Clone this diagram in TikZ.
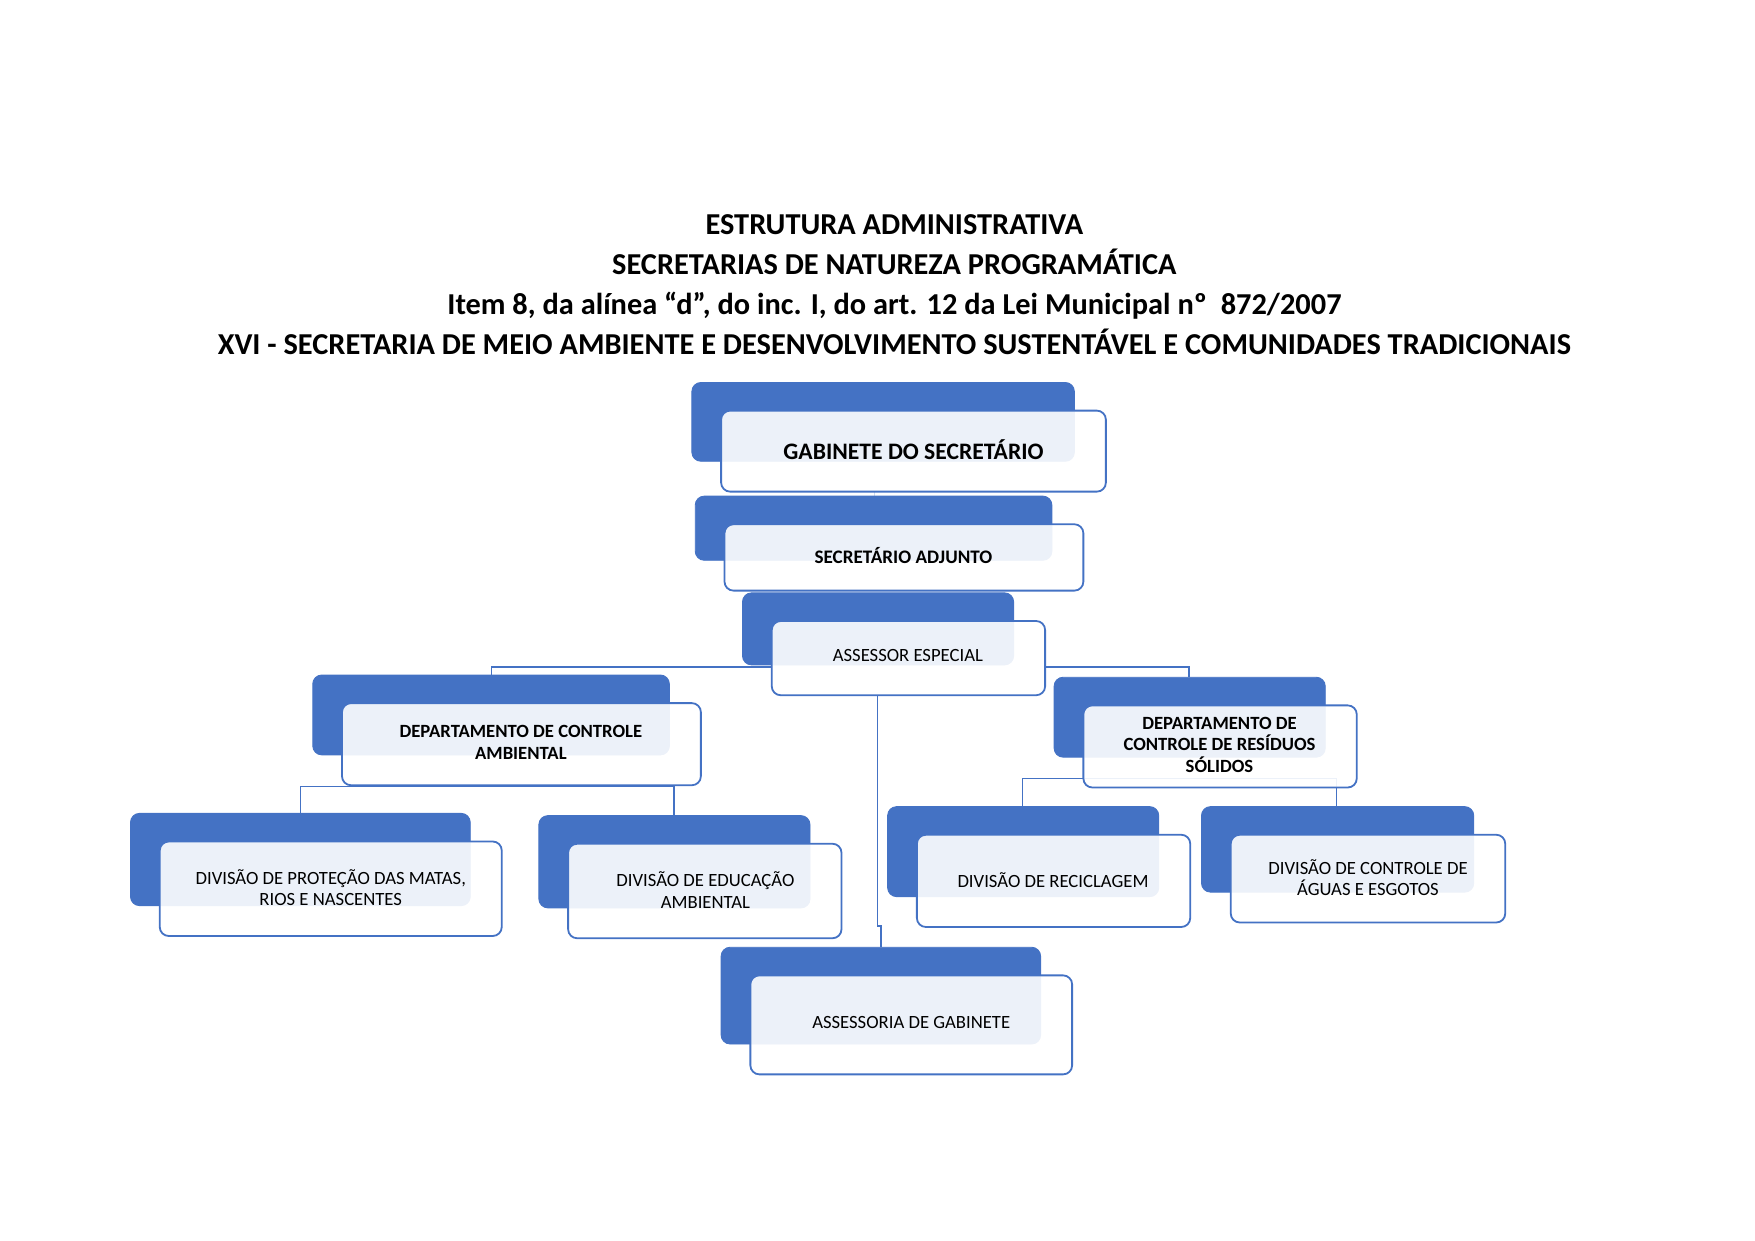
\documentclass[tikz,border=0pt]{standalone}
\usepackage{fontspec}
\setmainfont{Carlito}
\definecolor{bb}{HTML}{4472C4}
\begin{document}
\begin{tikzpicture}[x=0.5pt,y=-0.5pt,
 back/.style={fill=bb,draw=bb,rounded corners=4pt},
 front/.style={fill=white,fill opacity=0.9,draw=bb,line width=0.8pt,rounded corners=4pt},
 lbl/.style={align=center,font=\fontsize{8.3}{9.5}\selectfont,text=black},
 conn/.style={draw=bb,line width=0.7pt}]
\useasboundingbox (0,0) rectangle (1560,1103);
\node[font=\bfseries\fontsize{13.5}{17.8}\selectfont,align=center] (title) at (795,253)
 {ESTRUTURA ADMINISTRATIVA\\SECRETARIAS DE NATUREZA PROGRAMÁTICA\\Item 8, da alínea “d”, do inc. I, do art. 12 da Lei Municipal nº\ \ 872/2007\\XVI - SECRETARIA DE MEIO AMBIENTE E DESENVOLVIMENTO SUSTENTÁVEL E COMUNIDADES TRADICIONAIS};
% connectors
\coordinate (cl) at (437,593); \coordinate (cl2) at (437,600);
\coordinate (cr) at (1057,593); \coordinate (cr2) at (1057,602);
\draw[conn] (686,593) -- (cl) -- (cl2);
\draw[conn] (929,593) -- (cr) -- (cr2);
\draw[conn] (780,618) -- (780,823) -- (783,823) -- (783,842);
\draw[conn] (267,723) -- (267,699) -- (599,699) -- (599,725);
\draw[conn] (909,717) -- (909,692) -- (1188,692) -- (1188,717);
\draw[draw=bb!25,line width=0.5pt] (777,437) -- (777,466);
\newcommand\orgbox[9]{%
 \draw[back] (#1,#2) rectangle (#3,#4);
 \draw[front] (#1+26,#2+25) rectangle (#3+28,#4+27);
 \node[lbl,#9] (#8) at (#5,#6) {#7};}
\orgbox{615}{340}{955}{410}{812}{400}{GABINETE DO SECRETÁRIO}{gab}{font=\bfseries\fontsize{10.5}{12}\selectfont}
\orgbox{618}{441}{935}{498}{803}{494}{SECRETÁRIO ADJUNTO}{adj}{font=\bfseries\fontsize{8.5}{10}\selectfont}
\orgbox{660}{527}{901}{591}{807}{583}{ASSESSOR ESPECIAL}{ase}{}
\orgbox{278}{600}{595}{671}{463}{660}{DEPARTAMENTO DE CONTROLE\\AMBIENTAL}{dca}{font=\bfseries\fontsize{8.3}{9.5}\selectfont}
\orgbox{937}{602}{1178}{673}{1084}{662}{DEPARTAMENTO DE\\CONTROLE DE RESÍDUOS\\SÓLIDOS}{drs}{font=\bfseries\fontsize{8.3}{9.5}\selectfont}
\orgbox{116}{723}{418}{805}{294}{789}{DIVISÃO DE PROTEÇÃO DAS MATAS,\\RIOS E NASCENTES}{dp}{}
\orgbox{479}{725}{720}{807}{627}{791}{DIVISÃO DE EDUCAÇÃO\\AMBIENTAL}{de}{}
\orgbox{789}{717}{1030}{797}{936}{782}{DIVISÃO DE RECICLAGEM}{dr}{}
\orgbox{1068}{717}{1310}{793}{1216}{780}{DIVISÃO DE CONTROLE DE\\ÁGUAS E ESGOTOS}{dag}{}
\orgbox{641}{842}{925}{928}{810}{909}{ASSESSORIA DE GABINETE}{agb}{}
\end{tikzpicture}
\end{document}
